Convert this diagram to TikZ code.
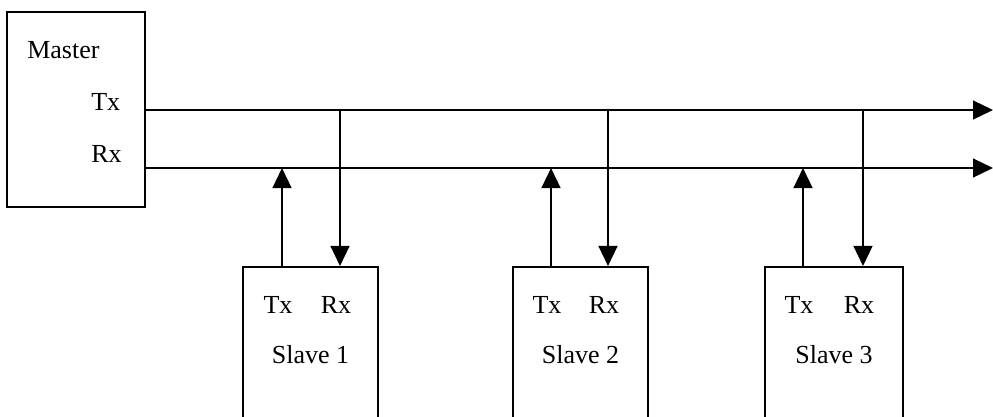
\documentclass[tikz,border=0pt]{standalone}
\usepackage{fontspec}
\setmainfont{Liberation Serif}
\usetikzlibrary{arrows.meta}

\tikzset{
	unit/.style={draw, line width=1.4pt, inner sep=0pt},
	busline/.style={line width=1.4pt, -{Triangle[length=0.5cm, width=0.47cm]}},
	lbl/.style={font=\fontsize{18.5}{21}\selectfont, inner sep=0pt}
}

\begin{document}
\begin{tikzpicture}[x=0.025cm, y=-0.025cm]
	\useasboundingbox (0,0) rectangle (993,416);
	\clip (0,0) rectangle (993,416);

	%master
	\node (master) [unit, minimum width=3.45cm, minimum height=4.875cm] at (76,109.5) {};
	\node (mname) [lbl, anchor=west] at (27,50) {Master};
	\node (mtx) [lbl, anchor=west] at (91,102) {Tx};
	\node (mrx) [lbl, anchor=west] at (91,154) {Rx};

	%bus lines
	\coordinate (txend) at (993,110);
	\coordinate (rxend) at (993,168);
	\draw[busline] (master.east |- txend) -- (txend);
	\draw[busline] (master.east |- rxend) -- (rxend);

	%slaves
	\foreach \n/\l/\r/\u/\d in {1/243/378/282/340, 2/513/648/551/608, 3/765/903/803/863}{
		\node (s\n) [unit, minimum width=(\r-\l)*0.025cm, minimum height=5cm]
			at ({(\l+\r)/2},{267+100}) {};
		\coordinate (up\n) at (\u,168);
		\coordinate (dn\n) at (\d,110);
		\draw[busline] (up\n |- s\n.north) -- (up\n);
		\draw[busline] (dn\n) -- (dn\n |- s\n.north);
		\node (s\n tx) [lbl] at (\u-4,305) {Tx};
		\node (s\n rx) [lbl] at (\d-4,305) {Rx};
		\node (s\n name) [lbl] at ({(\l+\r)/2},355) {Slave \n};
	}
\end{tikzpicture}
\end{document}
